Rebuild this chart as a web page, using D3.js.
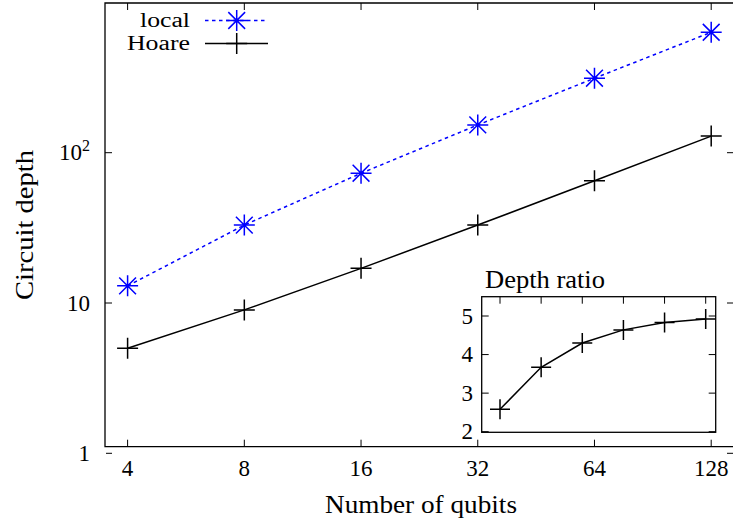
<!DOCTYPE html>
<html><head><meta charset="utf-8">
<script src="https://cdn.jsdelivr.net/npm/d3@7"></script>
<style>
html,body{margin:0;padding:0;background:#fff;}
</style></head>
<body><svg id="c" width="733" height="523" font-family="'Liberation Serif', 'DejaVu Serif', serif"></svg>
<script>
const qubits = [4, 8, 16, 32, 64, 128];
const localDepth = [13, 33, 73, 153, 313, 633];
const hoareDepth = [5, 9, 17, 33, 65, 129];
const depthRatio = [2.58, 3.67, 4.30, 4.64, 4.83, 4.92];
const yTicks = [1, 10, 100];
const insetYTicks = [2, 3, 4, 5];
const seriesNames = ["local", "Hoare"];
const seriesColors = ["#0000ff", "#000000"];

const svg = d3.select("#c");
const L = 105, R = 734, T = 3, B = 446.7;
const x = d3.scaleLog().base(2).domain([4, 128]).range([127.6, 711.2]);
const y = d3.scaleLog().domain([1, 1000]).range([453.3, 2.4]);

// frame
svg.append("path").attr("d", `M${R},${T}H${L}V${B}H${R}`)
  .attr("fill", "none").attr("stroke", "#000").attr("stroke-width", 1.3);

// x ticks
qubits.forEach(q => {
  svg.append("line").attr("x1", x(q)).attr("x2", x(q)).attr("y1", B).attr("y2", B - 7)
    .attr("stroke", "#000").attr("stroke-width", 1);
  svg.append("line").attr("x1", x(q)).attr("x2", x(q)).attr("y1", T).attr("y2", T + 7)
    .attr("stroke", "#000").attr("stroke-width", 1);
  svg.append("text").attr("x", x(q)).attr("y", 476).attr("text-anchor", "middle")
    .attr("font-size", 23).text(q);
});
// y ticks
yTicks.forEach(v => {
  const yy = y(v);
  const x0 = v === 1 ? L + 1 : L;
  svg.append("line").attr("x1", x0).attr("x2", L + 7).attr("y1", yy).attr("y2", yy)
    .attr("stroke", "#000").attr("stroke-width", 1);
  svg.append("line").attr("x1", R).attr("x2", R - 7).attr("y1", yy).attr("y2", yy)
    .attr("stroke", "#000").attr("stroke-width", 1);
  const t = svg.append("text").attr("x", 90).attr("y", yy + 7.5).attr("text-anchor", "end")
    .attr("font-size", 23);
  if (v === 100) {
    t.append("tspan").text("10");
    t.append("tspan").attr("dy", -9).attr("font-size", 16).text("2");
  } else t.text(v);
});

// axis labels
svg.append("text").attr("x", 421).attr("y", 513).attr("text-anchor", "middle")
  .attr("font-size", 25).attr("textLength", 192).attr("lengthAdjust", "spacingAndGlyphs")
  .text("Number of qubits");
svg.append("text").attr("transform", "translate(33,225) rotate(-90)").attr("text-anchor", "middle")
  .attr("font-size", 25).attr("textLength", 150).attr("lengthAdjust", "spacingAndGlyphs")
  .text("Circuit depth");

// markers
function star(g, cx, cy, s, color) {
  const d = `M${cx - s},${cy}H${cx + s}M${cx},${cy - s}V${cy + s}M${cx - s * 0.8},${cy - s * 0.8}L${cx + s * 0.8},${cy + s * 0.8}M${cx - s * 0.8},${cy + s * 0.8}L${cx + s * 0.8},${cy - s * 0.8}`;
  g.append("path").attr("d", d).attr("stroke", color).attr("stroke-width", 1.5).attr("fill", "none");
}
function plus(g, cx, cy, s, color) {
  g.append("path").attr("d", `M${cx - s},${cy}H${cx + s}M${cx},${cy - s}V${cy + s}`)
    .attr("stroke", color).attr("stroke-width", 1.5).attr("fill", "none");
}

const line = d3.line().x(d => x(d[0])).y(d => y(d[1]));
const localPts = qubits.map((q, i) => [q, localDepth[i]]);
const hoarePts = qubits.map((q, i) => [q, hoareDepth[i]]);
svg.append("path").attr("d", line(localPts)).attr("fill", "none").attr("stroke", seriesColors[0])
  .attr("stroke-width", 1.5).attr("stroke-dasharray", "3.5,3.5");
svg.append("path").attr("d", line(hoarePts)).attr("fill", "none").attr("stroke", seriesColors[1])
  .attr("stroke-width", 1.5);
localPts.forEach(p => star(svg, x(p[0]), y(p[1]), 10.5, seriesColors[0]));
hoarePts.forEach(p => plus(svg, x(p[0]), y(p[1]), 10.5, seriesColors[1]));

// legend
const legY = [20.5, 43.5];
const legW = [50, 63];
seriesNames.forEach((n, i) => {
  svg.append("text").attr("x", 190).attr("y", legY[i] + 6).attr("text-anchor", "end")
    .attr("font-size", 20).attr("textLength", legW[i]).attr("lengthAdjust", "spacingAndGlyphs").text(n);
  const ln = svg.append("line").attr("x1", 205).attr("x2", 268).attr("y1", legY[i]).attr("y2", legY[i])
    .attr("stroke", seriesColors[i]).attr("stroke-width", 1.5);
  if (i === 0) { ln.attr("stroke-dasharray", "3.5,3.5"); star(svg, 236.7, legY[i], 10.5, seriesColors[i]); }
  else plus(svg, 236.7, legY[i], 10.5, seriesColors[i]);
});

// inset
const iL = 481.7, iR = 715.7, iT = 296.7, iB = 432.3;
const xi = d3.scaleLog().base(2).domain([4, 128]).range([500, 705.7]);
const yi = d3.scaleLinear().domain([2, 5]).range([431.7, 316]);
svg.append("rect").attr("x", iL).attr("y", iT).attr("width", iR - iL).attr("height", iB - iT)
  .attr("fill", "#fff").attr("stroke", "#000").attr("stroke-width", 1.3);
qubits.forEach(q => {
  svg.append("line").attr("x1", xi(q)).attr("x2", xi(q)).attr("y1", iT).attr("y2", iT + 7)
    .attr("stroke", "#000").attr("stroke-width", 1);
});
insetYTicks.forEach(v => {
  svg.append("line").attr("x1", iL).attr("x2", iL + 7).attr("y1", yi(v)).attr("y2", yi(v))
    .attr("stroke", "#000").attr("stroke-width", 1);
  svg.append("line").attr("x1", iR).attr("x2", iR - 7).attr("y1", yi(v)).attr("y2", yi(v))
    .attr("stroke", "#000").attr("stroke-width", 1);
  svg.append("text").attr("x", 473).attr("y", yi(v) + 7.5).attr("text-anchor", "end")
    .attr("font-size", 23).text(v);
});
svg.append("text").attr("x", 485).attr("y", 288).attr("font-size", 25)
  .attr("textLength", 120).attr("lengthAdjust", "spacingAndGlyphs").text("Depth ratio");
const ratioPts = qubits.map((q, i) => [q, depthRatio[i]]);
svg.append("path").attr("d", d3.line().x(d => xi(d[0])).y(d => yi(d[1])).curve(d3.curveLinear)(ratioPts))
  .attr("fill", "none").attr("stroke", "#000").attr("stroke-width", 1.5);
ratioPts.forEach(p => plus(svg, xi(p[0]), yi(p[1]), 10, "#000"));
</script></body></html>
